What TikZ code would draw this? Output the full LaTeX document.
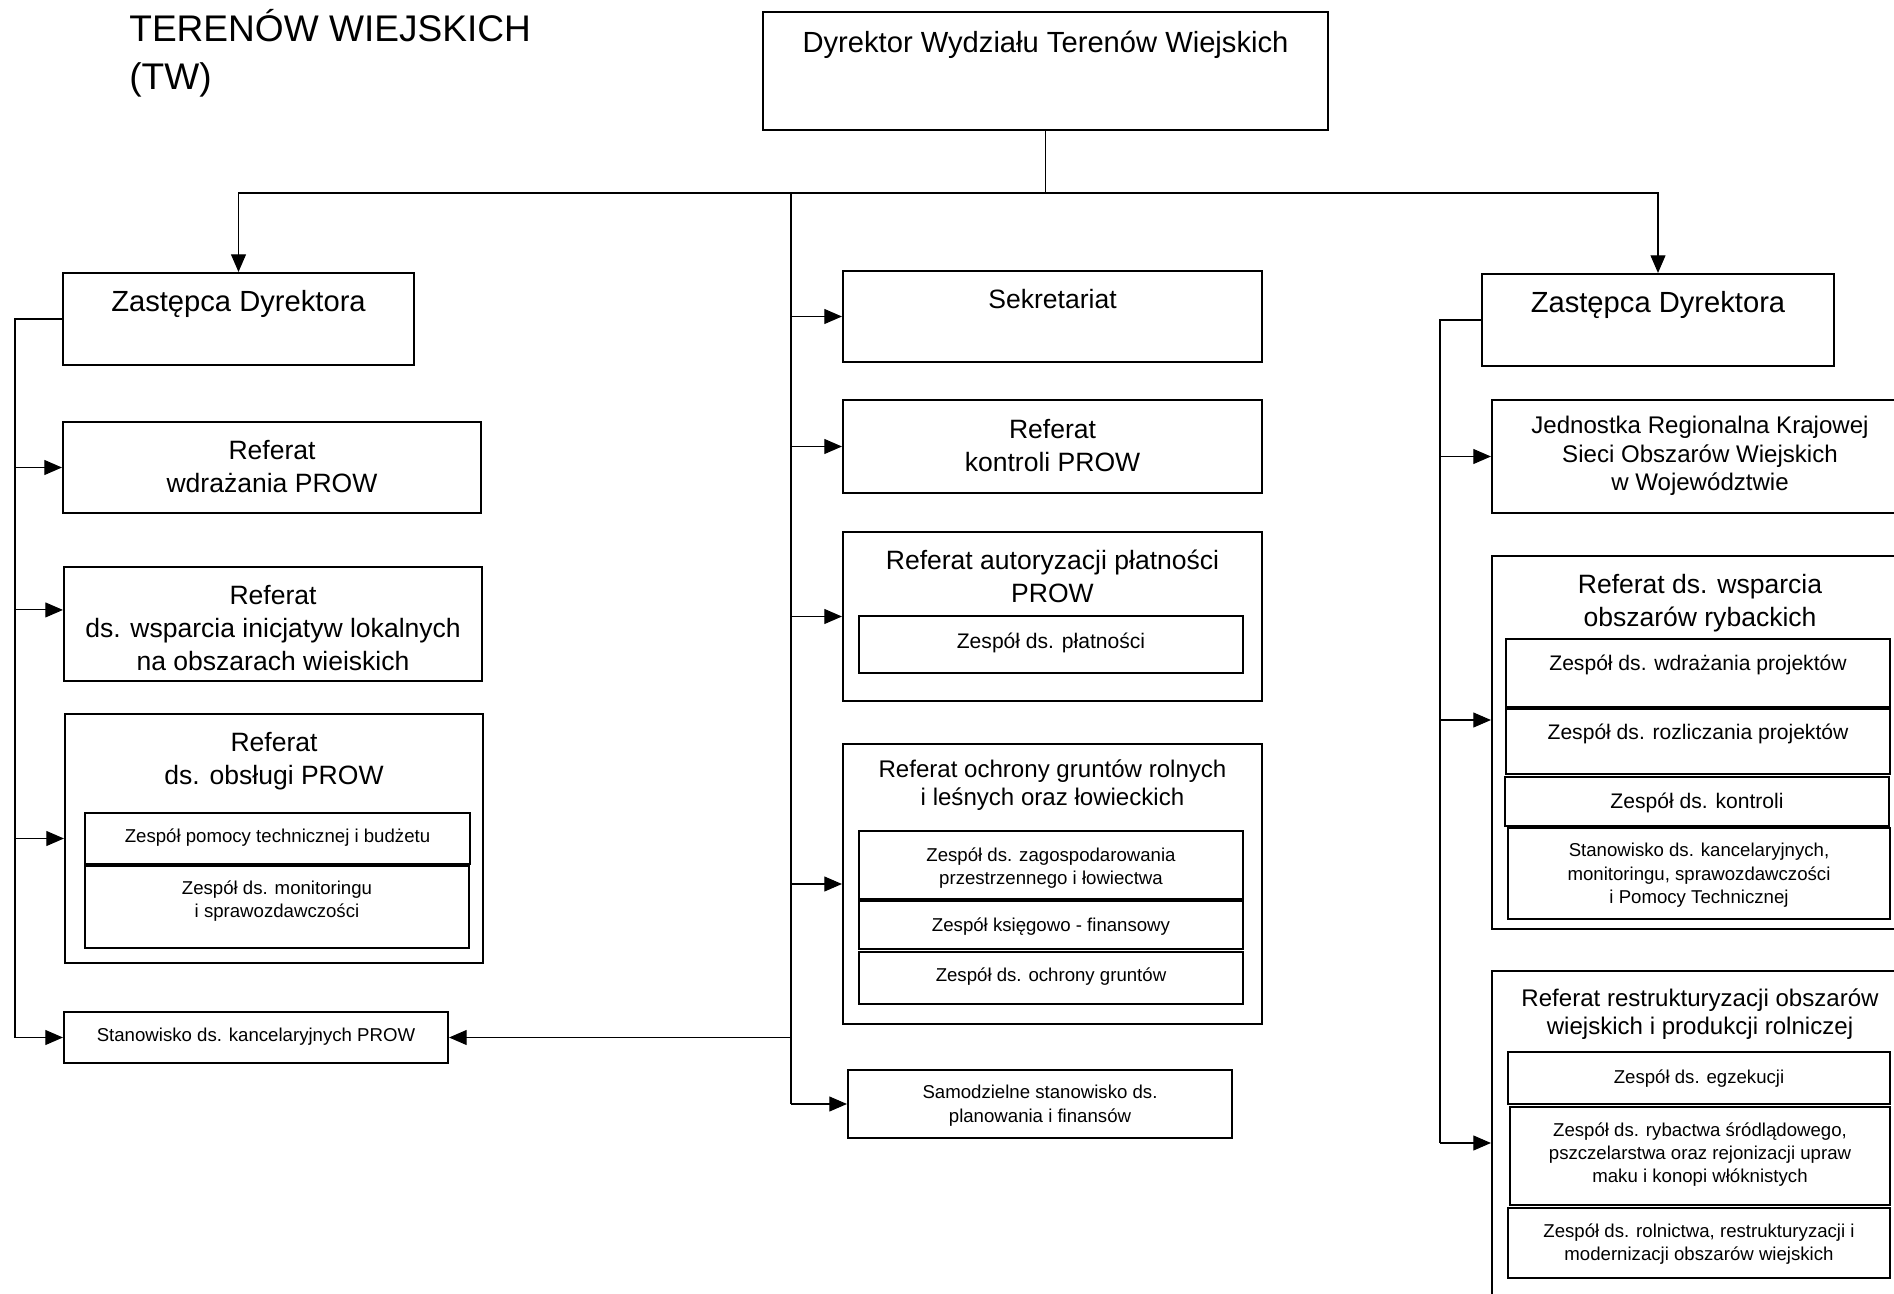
\documentclass[tikz,border=0pt]{standalone}
\usepackage{fontspec}
\setmainfont{Liberation Sans}
\usetikzlibrary{arrows.meta,fit}
\tikzset{
  orgbox/.style={draw, line width=1.2pt, inner sep=0pt},
  conn/.style={line width=0.6pt},
  arr/.style={conn, -{Triangle[length=10pt, width=8.5pt]}},
  txt/.style={anchor=north, inner sep=0pt, align=center},
  headtxt/.style={txt, font=\fontsize{16.6}{20}\selectfont},
  reftxt/.style={txt, font=\fontsize{15.1}{18.8}\selectfont},
  midtxt/.style={txt, font=\fontsize{13.7}{16.2}\selectfont},
  zesptxt/.style={txt, font=\fontsize{12}{14.5}\selectfont},
  smalltxt/.style={txt, font=\fontsize{10.6}{13.2}\selectfont}
}
\begin{document}
\begin{tikzpicture}[x=0.02cm, y=-0.02cm]
  \useasboundingbox (0,0) rectangle (1894,1294);
  \clip (0,0) rectangle (1894,1294);

  \node[anchor=north west, inner sep=0pt, align=left,
    font=\fontsize{21.1}{27.3}\selectfont] (title) at (129,9.5) {TERENÓW WIEJSKICH\\(TW)};

  % director and deputies
  \node[orgbox, fit={(763,12) (1328,130)}] (dir) {};
  \node[headtxt] (dirt) at (dir.north |- 0,30.5) {Dyrektor Wydziału Terenów Wiejskich};
  \node[orgbox, fit={(63,273) (414,365)}] (zd1) {};
  \node[headtxt] (zd1t) at (zd1.north |- 0,290.5) {Zastępca Dyrektora};
  \node[orgbox, fit={(1482,274) (1834,366)}] (zd2) {};
  \node[headtxt] (zd2t) at (zd2.north |- 0,291.5) {Zastępca Dyrektora};

  % left column
  \node[orgbox, fit={(63,422) (481,513)}] (wdr) {};
  \node[reftxt] (wdrt) at (wdr.north |- 0,439.5) {Referat\\wdrażania PROW};
  \node[orgbox, fit={(64,567) (482,681)}] (ini) {};
  \node[reftxt] (init) at (ini.north |- 0,584.5) {Referat\\ds. wsparcia inicjatyw lokalnych\\na obszarach wieiskich};
  \node[orgbox, fit={(65,714) (483,963)}] (obs) {};
  \node[reftxt] (obst) at (obs.north |- 0,731.5) {Referat\\ds. obsługi PROW};
  \node[orgbox, fit={(85,813) (470,864)}] (obs1) {};
  \node[smalltxt] (obs1t) at (obs1.north |- 0,828) {Zespół pomocy technicznej i budżetu};
  \node[orgbox, fit={(85,866) (469,948)}] (obs2) {};
  \node[smalltxt] (obs2t) at (obs2.north |- 0,880) {Zespół ds. monitoringu\\i sprawozdawczości};
  \node[orgbox, fit={(64,1012) (448,1063)}] (stan) {};
  \node[smalltxt] (stant) at (stan.north |- 0,1028) {Stanowisko ds. kancelaryjnych PROW};

  % middle column
  \node[orgbox, fit={(843,271) (1262,362)}] (sek) {};
  \node[reftxt] (sekt) at (sek.north |- 0,288.5) {Sekretariat};
  \node[orgbox, fit={(843,400) (1262,493)}] (kon) {};
  \node[reftxt] (kont) at (kon.north |- 0,418.5) {Referat\\kontroli PROW};
  \node[orgbox, fit={(843,532) (1262,701)}] (aut) {};
  \node[reftxt] (autt) at (aut.north |- 0,549.5) {Referat autoryzacji płatności\\PROW};
  \node[orgbox, fit={(859,616) (1243,673)}] (aut1) {};
  \node[zesptxt] (aut1t) at (aut1.north |- 0,632.5) {Zespół ds. płatności};
  \node[orgbox, fit={(843,744) (1262,1024)}] (och) {};
  \node[midtxt] (ocht) at (och.north |- 0,759) {Referat ochrony gruntów rolnych\\i leśnych oraz łowieckich};
  \node[orgbox, fit={(859,831) (1243,899)}] (och1) {};
  \node[smalltxt] (och1t) at (och1.north |- 0,847) {Zespół ds. zagospodarowania\\przestrzennego i łowiectwa};
  \node[orgbox, fit={(859,901) (1243,949)}] (och2) {};
  \node[smalltxt] (och2t) at (och2.north |- 0,917) {Zespół księgowo - finansowy};
  \node[orgbox, fit={(859,952) (1243,1004)}] (och3) {};
  \node[smalltxt] (och3t) at (och3.north |- 0,967) {Zespół ds. ochrony gruntów};
  \node[orgbox, fit={(848,1070) (1232,1138)}] (sam) {};
  \node[smalltxt] (samt) at (sam.north |- 0,1085) {Samodzielne stanowisko ds.\\planowania i finansów};

  % right column
  \node[orgbox, fit={(1492,400) (1908,513)}] (jed) {};
  \node[midtxt] (jedt) at (jed.north |- 0,416) {Jednostka Regionalna Krajowej\\Sieci Obszarów Wiejskich\\w Województwie};
  \node[orgbox, fit={(1492,556) (1908,929)}] (ryb) {};
  \node[reftxt] (rybt) at (ryb.north |- 0,573.5) {Referat ds. wsparcia\\obszarów rybackich};
  \node[orgbox, fit={(1506,639) (1890,707)}] (ryb1) {};
  \node[zesptxt] (ryb1t) at (ryb1.north |- 0,654.5) {Zespół ds. wdrażania projektów};
  \node[orgbox, fit={(1506,709) (1890,774)}] (ryb2) {};
  \node[zesptxt] (ryb2t) at (ryb2.north |- 0,723.5) {Zespół ds. rozliczania projektów};
  \node[orgbox, fit={(1505,777) (1889,826)}] (ryb3) {};
  \node[zesptxt] (ryb3t) at (ryb3.north |- 0,792.5) {Zespół ds. kontroli};
  \node[orgbox, fit={(1508,828) (1890,919)}] (ryb4) {};
  \node[smalltxt] (ryb4t) at (ryb4.north |- 0,843) {Stanowisko ds. kancelaryjnych,\\monitoringu, sprawozdawczości\\i Pomocy Technicznej};
  \node[orgbox, fit={(1492,971) (1908,1315)}] (res) {};
  \node[midtxt] (rest) at (res.north |- 0,988) {Referat restrukturyzacji obszarów\\wiejskich i produkcji rolniczej};
  \node[orgbox, fit={(1508,1052) (1890,1104)}] (res1) {};
  \node[smalltxt] (res1t) at (res1.north |- 0,1069) {Zespół ds. egzekucji};
  \node[orgbox, fit={(1510,1107) (1890,1205)}] (res2) {};
  \node[smalltxt] (res2t) at (res2.north |- 0,1122) {Zespół ds. rybactwa śródlądowego,\\pszczelarstwa oraz rejonizacji upraw\\maku i konopi włóknistych};
  \node[orgbox, fit={(1508,1208) (1890,1278)}] (res3) {};
  \node[smalltxt] (res3t) at (res3.north |- 0,1223) {Zespół ds. rolnictwa, restrukturyzacji i\\modernizacji obszarów wiejskich};

  % buses
  \coordinate (j) at (dir.south |- 0,193);
  \coordinate (mb) at (791,193);
  \coordinate (lb) at (15,0);
  \coordinate (rb) at (1440,0);
  \coordinate (inia) at ([yshift=8pt]ini.west);
  \coordinate (ryba) at ([yshift=12.8pt]ryb.west);

  \begin{scope}[conn]
    \draw (dir.south) -- (j);
    \draw (mb) -- (mb |- sam.west);
    \draw (zd1.west) -- (zd1.west -| lb) -- (lb |- stan.west);
    \draw (zd2.west) -- (zd2.west -| rb) -- (rb |- res.west);
  \end{scope}
  \begin{scope}[arr]
    \draw (j) -| (zd1);
    \draw (j) -| (zd2);
    \draw (lb |- wdr.west) -- (wdr.west);
    \draw (lb |- inia) -- (inia);
    \draw (lb |- obs.west) -- (obs.west);
    \draw (lb |- stan.west) -- (stan.west);
    \draw (mb |- stan.east) -- (stan.east);
    \draw (mb |- sek.west) -- (sek.west);
    \draw (mb |- kon.west) -- (kon.west);
    \draw (mb |- aut.west) -- (aut.west);
    \draw (mb |- och.west) -- (och.west);
    \draw (mb |- sam.west) -- (sam.west);
    \draw (rb |- jed.west) -- (jed.west);
    \draw (rb |- ryba) -- (ryba);
    \draw (rb |- res.west) -- (res.west);
  \end{scope}
\end{tikzpicture}
\end{document}
